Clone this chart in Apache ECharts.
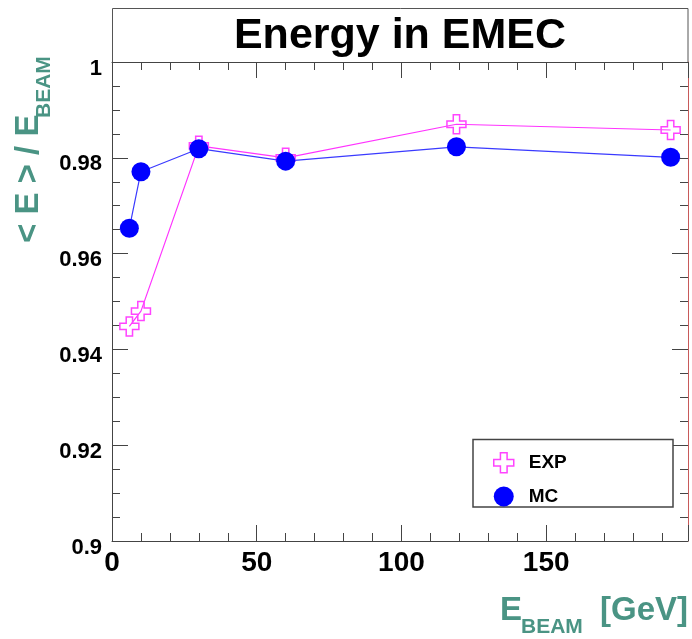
<!DOCTYPE html>
<html><head><meta charset="utf-8">
<script src="https://cdn.jsdelivr.net/npm/echarts@6/dist/echarts.min.js"></script>
<style>html,body{margin:0;padding:0;background:#fff}#c{width:692px;height:639px}</style>
</head><body><div id="c"></div>
<script>
// ---- data ----
const energies = [6, 10, 30, 60, 119, 193];
const expValues = [0.9448, 0.9480, 0.9825, 0.9800, 0.9870, 0.9858];
const mcValues  = [0.9653, 0.9771, 0.9819, 0.9793, 0.9823, 0.9801];
const seriesNames = ['EXP', 'MC'];
const chartTitle = 'Energy in EMEC';
const yTitleMain = '< E > / E';
const yTitleSub = 'BEAM';
const xTitleMain = 'E';
const xTitleSub = 'BEAM';
const xTitleUnit = '[GeV]';

const FONT = '"Liberation Sans", Arial, Helvetica, sans-serif';
const TEAL = '#4a9484';
const CROSS = 'path://M6,0H12V6H18V12H12V18H6V12H0V6H6Z';

const chart = echarts.init(document.getElementById('c'), null, {renderer: 'canvas'});

function pairs(xs, ys) { return xs.map((x, i) => [x, ys[i]]); }

const tickStyle = {color: '#444'};

const option = {
  animation: false,
  backgroundColor: '#fff',
  grid: {left: 112, right: 4, top: 62, bottom: 98, containLabel: false},
  xAxis: [
    {
      type: 'value', position: 'bottom', min: 0, max: 199, interval: 50,
      splitLine: {show: false},
      axisLine: {show: true, onZero: false, lineStyle: {color: '#444', width: 1}},
      axisTick: {show: true, inside: true, length: 16, lineStyle: tickStyle},
      minorTick: {show: true, splitNumber: 5, length: 8, lineStyle: tickStyle},
      axisLabel: {show: true, margin: 8, color: '#000', fontFamily: FONT, fontWeight: 'bold', fontSize: 28,
        showMaxLabel: false}
    },
    {
      type: 'value', position: 'top', min: 0, max: 199, interval: 50,
      splitLine: {show: false},
      axisLine: {show: true, onZero: false, lineStyle: {color: '#444', width: 1}},
      axisTick: {show: true, inside: true, length: 16, lineStyle: tickStyle},
      minorTick: {show: true, splitNumber: 5, length: 8, lineStyle: tickStyle},
      axisLabel: {show: false}
    }
  ],
  yAxis: [
    {
      type: 'value', position: 'left', min: 0.9, max: 1, interval: 0.02,
      splitLine: {show: false},
      axisLine: {show: true, onZero: false, lineStyle: {color: '#444', width: 1}},
      axisTick: {show: true, inside: true, length: 16, lineStyle: tickStyle},
      minorTick: {show: true, splitNumber: 4, length: 8, lineStyle: tickStyle},
      axisLabel: {show: true, margin: 10, formatter: function (v) { return '{a|' + v + '}'; },
        rich: {a: {color: '#000', fontFamily: FONT, fontWeight: 'bold', fontSize: 22, padding: [13, 0, 0, 0]}}}
    },
    {
      type: 'value', position: 'right', min: 0.9, max: 1, interval: 0.02,
      splitLine: {show: false},
      axisLine: {show: true, onZero: false, lineStyle: {color: '#c85a5a', width: 1}},
      axisTick: {show: true, inside: true, length: 16, lineStyle: tickStyle},
      minorTick: {show: true, splitNumber: 4, length: 8, lineStyle: tickStyle},
      axisLabel: {show: false}
    }
  ],
  legend: {
    orient: 'vertical', left: 488, top: 447,
    itemWidth: 20, itemHeight: 20, itemGap: 13,
    textStyle: {fontFamily: FONT, fontWeight: 'bold', fontSize: 19, color: '#000', padding: [0, 0, 0, 10]},
    data: [
      {name: seriesNames[0], icon: CROSS,
       itemStyle: {color: 'rgba(255,255,255,0)', borderColor: '#ff44ff', borderWidth: 1.5}},
      {name: seriesNames[1], icon: 'circle', itemStyle: {color: '#0000ff'}}
    ],
    z: 10
  },
  graphic: [
    {type: 'rect', z: 0, shape: {x: 112.5, y: 8.5, width: 575.5, height: 54}, style: {fill: '#fff', stroke: '#555', lineWidth: 1}},
    {type: 'text', z: 5, x: 400, y: 36, style: {text: chartTitle, font: 'bold 43px ' + FONT, fill: '#000', align: 'center', verticalAlign: 'middle', textAlign: 'center', textVerticalAlign: 'middle'}},
    {type: 'rect', z: 5, shape: {x: 473, y: 439.5, width: 200, height: 67.5}, style: {fill: '#fff', stroke: '#444', lineWidth: 1.5}},
    {type: 'text', z: 5, x: 29, y: 243, rotation: Math.PI / 2, style: {text: yTitleMain, font: 'bold 33px ' + FONT, fill: TEAL, align: 'left', verticalAlign: 'middle', textAlign: 'left', textVerticalAlign: 'middle'}},
    {type: 'text', z: 5, x: 44.5, y: 118, rotation: Math.PI / 2, style: {text: yTitleSub, font: 'bold 21px ' + FONT, fill: TEAL, align: 'left', verticalAlign: 'middle', textAlign: 'left', textVerticalAlign: 'middle'}},
    {type: 'text', z: 5, x: 500, y: 611, style: {text: xTitleMain, font: 'bold 33px ' + FONT, fill: TEAL, align: 'left', verticalAlign: 'middle', textAlign: 'left', textVerticalAlign: 'middle'}},
    {type: 'text', z: 5, x: 521, y: 627, style: {text: xTitleSub, font: 'bold 21px ' + FONT, fill: TEAL, align: 'left', verticalAlign: 'middle', textAlign: 'left', textVerticalAlign: 'middle'}},
    {type: 'text', z: 5, x: 688, y: 611, style: {text: xTitleUnit, font: 'bold 33px ' + FONT, fill: TEAL, align: 'right', verticalAlign: 'middle', textAlign: 'right', textVerticalAlign: 'middle'}}
  ],
  series: [
    {
      name: seriesNames[0], type: 'line', xAxisIndex: 0, yAxisIndex: 0,
      data: pairs(energies, expValues),
      symbol: CROSS, symbolSize: 19, showAllSymbol: true,
      lineStyle: {color: '#ff33ff', width: 1.2},
      itemStyle: {color: 'rgba(255,255,255,0)', borderColor: '#ff44ff', borderWidth: 1.5},
      emphasis: {disabled: true}, z: 2
    },
    {
      name: seriesNames[1], type: 'line', xAxisIndex: 0, yAxisIndex: 0,
      data: pairs(energies, mcValues),
      symbol: 'circle', symbolSize: 19, showAllSymbol: true,
      lineStyle: {color: '#3a3aff', width: 1.2},
      itemStyle: {color: '#0000ff', borderWidth: 0},
      emphasis: {disabled: true}, z: 3
    }
  ]
};
chart.setOption(option);
</script></body></html>
